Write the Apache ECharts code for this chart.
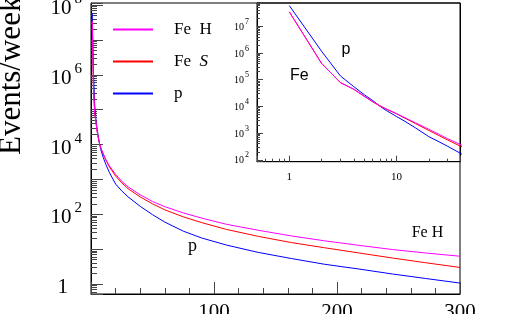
<!DOCTYPE html>
<html>
<head>
<meta charset="utf-8">
<script src="https://cdn.jsdelivr.net/npm/echarts@6/dist/echarts.min.js"></script>
<style>html,body{margin:0;padding:0;background:#fff}#c{width:530px;height:314px}</style>
</head>
<body>
<div id="c"></div>
<script>
// Data (energy-like x, events/week)
const xs  = [1,2,3,4,5,6,7,8,10,12,15,20,25,30,40,50,60,75,90,110,136,163,190,218,245,272,300];
const feH = [3.5e7,4.1e5,7.8e4,4.4e4,2.4e4,1.5e4,1.05e4,8100,5400,3800,2450,1400,890,620,363,234,166,110,78,52,35,24,17.4,12.9,9.8,7.8,6.3];
const feS = [3.5e7,4.1e5,7.8e4,4.4e4,2.4e4,1.5e4,1.05e4,8000,5300,3630,2290,1260,800,550,316,200,135,85,58,37,23.4,15.5,11.0,7.8,5.6,4.1,3.0];
const pr  = [6.0e7,1.17e6,1.38e5,5.5e4,2.75e4,1.66e4,1.02e4,7100,4200,2750,1580,740,470,320,170,98,60,33,21,13.2,8.1,5.4,3.7,2.7,1.95,1.45,1.07];
const seriesNames = ['Fe  H', 'Fe  S', 'p'];
const xTickLabels = [100, 200, 300];

const SERIF = 'Liberation Serif';
const pairs = arr => xs.map((x, i) => [x, arr[i]]);

function expOf(v) {
  const e = Math.log10(v); const r = Math.round(e);
  return Math.abs(e - r) < 1e-6 ? r : null;
}

const chart = echarts.init(document.getElementById('c'), null, {renderer: 'canvas'});

const mkSeries = (name, data, color, ax, z) => ({
  name, type: 'line', data: pairs(data), xAxisIndex: ax, yAxisIndex: ax,
  symbol: 'none', showSymbol: false, animation: false, z, smooth: false,
  lineStyle: {color, width: 1}, itemStyle: {color}
});
const axLine = {onZero: false, lineStyle: {color: '#000', width: 1}};

chart.setOption({
  animation: false,
  backgroundColor: '#fff',
  grid: [
    {left: 91, top: 3, width: 369, height: 291, containLabel: false, outerBoundsMode: 'none',
     show: true, borderColor: '#000', borderWidth: 1, backgroundColor: 'transparent'},
    {left: 257, top: 3, width: 203.5, height: 158.7, containLabel: false, outerBoundsMode: 'none',
     show: true, borderColor: '#000', borderWidth: 1, backgroundColor: 'transparent'}
  ],
  legend: {
    orient: 'vertical', left: 107, top: 16, itemWidth: 40, itemHeight: 20, itemGap: 15,
    data: seriesNames,
    itemStyle: {opacity: 0},
    formatter: n => n === 'Fe  S' ? 'Fe  {i|S}' : n,
    textStyle: {fontFamily: SERIF, fontSize: 17, color: '#000', padding: [0, 0, 0, 16],
      rich: {i: {fontFamily: SERIF, fontSize: 17, fontStyle: 'italic', color: '#000'}}}
  },
  xAxis: [
    {
      type: 'value', gridIndex: 0, min: 0, max: 300, interval: 100,
      axisLine: axLine,
      axisTick: {inside: true, length: 12, lineStyle: {color: '#444'}},
      minorTick: {show: true, splitNumber: 5, length: 6, lineStyle: {color: '#444'}},
      splitLine: {show: false},
      axisLabel: {showMinLabel: false, margin: 8, fontFamily: SERIF, fontSize: 21, color: '#000',
        formatter: v => xTickLabels.indexOf(v) >= 0 ? String(v) : ''}
    },
    {
      type: 'log', gridIndex: 1, min: 0.5, max: 39.5, logBase: 10,
      axisLine: axLine,
      axisTick: {inside: true, length: 6, lineStyle: {color: '#444'}},
      minorTick: {show: true, splitNumber: 9, length: 3, lineStyle: {color: '#444'}},
      splitLine: {show: false},
      axisLabel: {margin: 10, fontFamily: SERIF, fontSize: 11, color: '#000',
        formatter: v => { const e = expOf(v); return e === null ? '' : String(Math.pow(10, e)); }}
    }
  ],
  yAxis: [
    {
      type: 'log', gridIndex: 0, min: 0.52, max: 1.15e8, logBase: 10,
      axisLine: axLine,
      axisTick: {inside: true, length: 12, lineStyle: {color: '#444'}},
      minorTick: {show: true, splitNumber: 9, length: 6, lineStyle: {color: '#444'}},
      splitLine: {show: false},
      axisLabel: {
        margin: 9, color: '#000',
        formatter: v => { const e = expOf(v); if (e === null || e % 2) return ''; return e === 0 ? '{one|1}' : '{b|10}{s|' + e + '}'; },
        rich: {
          b: {fontFamily: SERIF, fontSize: 21, color: '#000', padding: [7, 0, 0, 0]},
          s: {fontFamily: SERIF, fontSize: 15, color: '#000', padding: [0, 0, 12, 3]},
          one: {fontFamily: SERIF, fontSize: 21, color: '#000', padding: [6, 14, 0, 0]}
        }
      }
    },
    {
      type: 'log', gridIndex: 1, min: 85, max: 7.5e7, logBase: 10,
      axisLine: axLine,
      axisTick: {inside: true, length: 6, lineStyle: {color: '#444'}},
      minorTick: {show: true, splitNumber: 9, length: 3, lineStyle: {color: '#444'}},
      splitLine: {show: false},
      axisLabel: {
        margin: 8, color: '#000',
        formatter: v => { const e = expOf(v); if (e === null) return ''; return '{b|10}{s|' + e + '}'; },
        rich: {
          b: {fontFamily: SERIF, fontSize: 10, color: '#000', padding: [2, 0, 0, 0]},
          s: {fontFamily: SERIF, fontSize: 8, color: '#000', padding: [0, 0, 9, 1]}
        }
      }
    }
  ],
  graphic: [
    {type: 'text', x: 12, y: 155, rotation: Math.PI / 2, style: {text: 'Events/week', font: '31px "Liberation Serif"', fill: '#000', textAlign: 'left', textVerticalAlign: 'middle'}},
    {type: 'text', x: 192.5, y: 246, style: {text: 'p', font: '18px "Liberation Serif"', fill: '#000', textAlign: 'center', textVerticalAlign: 'middle'}},
    {type: 'text', x: 427.5, y: 232.5, style: {text: 'Fe H', font: '16px "Liberation Serif"', fill: '#000', textAlign: 'center', textVerticalAlign: 'middle'}},
    {type: 'text', x: 346, y: 49.5, style: {text: 'p', font: '16px "Liberation Sans"', fill: '#000', textAlign: 'center', textVerticalAlign: 'middle'}},
    {type: 'text', x: 290, y: 76, style: {text: 'Fe', font: '16px "Liberation Sans"', fill: '#000', textAlign: 'left', textVerticalAlign: 'middle'}}
  ],
  series: [
    mkSeries('p', pr, '#0000ff', 0, 2),
    mkSeries('Fe  S', feS, '#ff0000', 0, 3),
    mkSeries('Fe  H', feH, '#ff00ff', 0, 4),
    mkSeries('p', pr, '#0000ff', 1, 2),
    mkSeries('Fe  S', feS, '#ff0000', 1, 3),
    mkSeries('Fe  H', feH, '#ff00ff', 1, 4)
  ]
});
</script>
</body>
</html>
